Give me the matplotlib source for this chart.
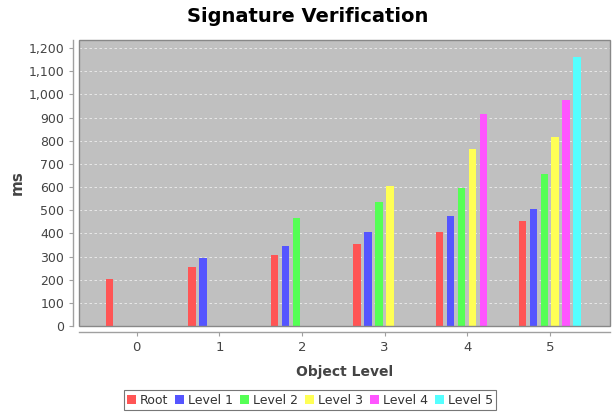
import matplotlib
matplotlib.use("Agg")
import matplotlib.pyplot as plt
from matplotlib.patches import Rectangle, Patch
import numpy as np

categories = ["0", "1", "2", "3", "4", "5"]
series = ["Root", "Level 1", "Level 2", "Level 3", "Level 4", "Level 5"]
root = [205, 255, 305, 355, 405, 455]
level1 = [None, 295, 345, 405, 475, 505]
level2 = [None, None, 465, 535, 595, 655]
level3 = [None, None, None, 605, 765, 815]
level4 = [None, None, None, None, 915, 975]
level5 = [None, None, None, None, None, 1160]
values = [root, level1, level2, level3, level4, level5]
colors = ["#FF5555", "#5555FF", "#55FF55", "#FFFF55", "#FF55FF", "#55FFFF"]

plt.rcParams['font.family'] = ['DejaVu Sans']
fig = plt.figure(figsize=(6.16, 4.16), dpi=100)
ax = fig.add_axes([79/616, 1-326/416, (610-79)/616, (326-40)/416])
ax.set_facecolor("#C0C0C0")

x = np.arange(len(categories))
pitch = 0.133
width = 0.09
for j, (name, vals) in enumerate(zip(series, values)):
    xs = [xi + (j - 2.5) * pitch for xi, v in zip(x, vals) if v is not None]
    ys = [v for v in vals if v is not None]
    ax.bar(xs, ys, width=width, color=colors[j], edgecolor="none", zorder=3)

ax.set_xlim(-0.70, 5.73)
ax.set_ylim(0, 1235)
ax.set_yticks(range(0, 1201, 100))
ax.set_yticklabels([f"{v:,}" for v in range(0, 1201, 100)])
ax.set_xticks(x)
ax.set_xticklabels(categories)
ax.yaxis.grid(True, color="#EEEEEE", linestyle=(0, (3, 3)), linewidth=0.6, zorder=1)
ax.set_axisbelow(True)

for s in ["top", "right"]:
    ax.spines[s].set_visible(False)
for s in ["left", "bottom"]:
    ax.spines[s].set_position(("outward", 4))
    ax.spines[s].set_color("#A0A0A0")
    ax.spines[s].set_linewidth(1.0)
ax.add_patch(Rectangle((0, 0), 1, 1, transform=ax.transAxes, fill=False,
                       edgecolor="#888888", linewidth=1.0, clip_on=False, zorder=5))

ax.tick_params(axis="both", colors="#A0A0A0", labelcolor="#444444",
               labelsize=9, length=3, width=0.8)
ax.tick_params(axis="x", labelsize=9.5, pad=4)

ax.set_xlabel("Object Level", fontsize=10, fontweight="bold", color="#444444", labelpad=8)
ax.set_ylabel("ms", fontsize=11, fontweight="bold", color="#444444", labelpad=3)
fig.text(308/616, 1-17/416, "Signature Verification", ha="center", va="center",
         fontsize=14, fontweight="bold", color="black")

handles = [Patch(facecolor=c, edgecolor="none", label=n) for c, n in zip(colors, series)]
leg = fig.legend(handles=handles, loc="center", bbox_to_anchor=(310/616, 1-400/416),
                 ncol=6, fontsize=9, frameon=True, fancybox=False,
                 handlelength=0.7, handleheight=0.7, handletextpad=0.3,
                 columnspacing=0.6, borderpad=0.25, borderaxespad=0)
leg.get_frame().set_edgecolor("#555555")
leg.get_frame().set_linewidth(0.8)
for t in leg.get_texts():
    t.set_color("#333333")

fig.savefig("out.png", dpi=100, facecolor="white")
